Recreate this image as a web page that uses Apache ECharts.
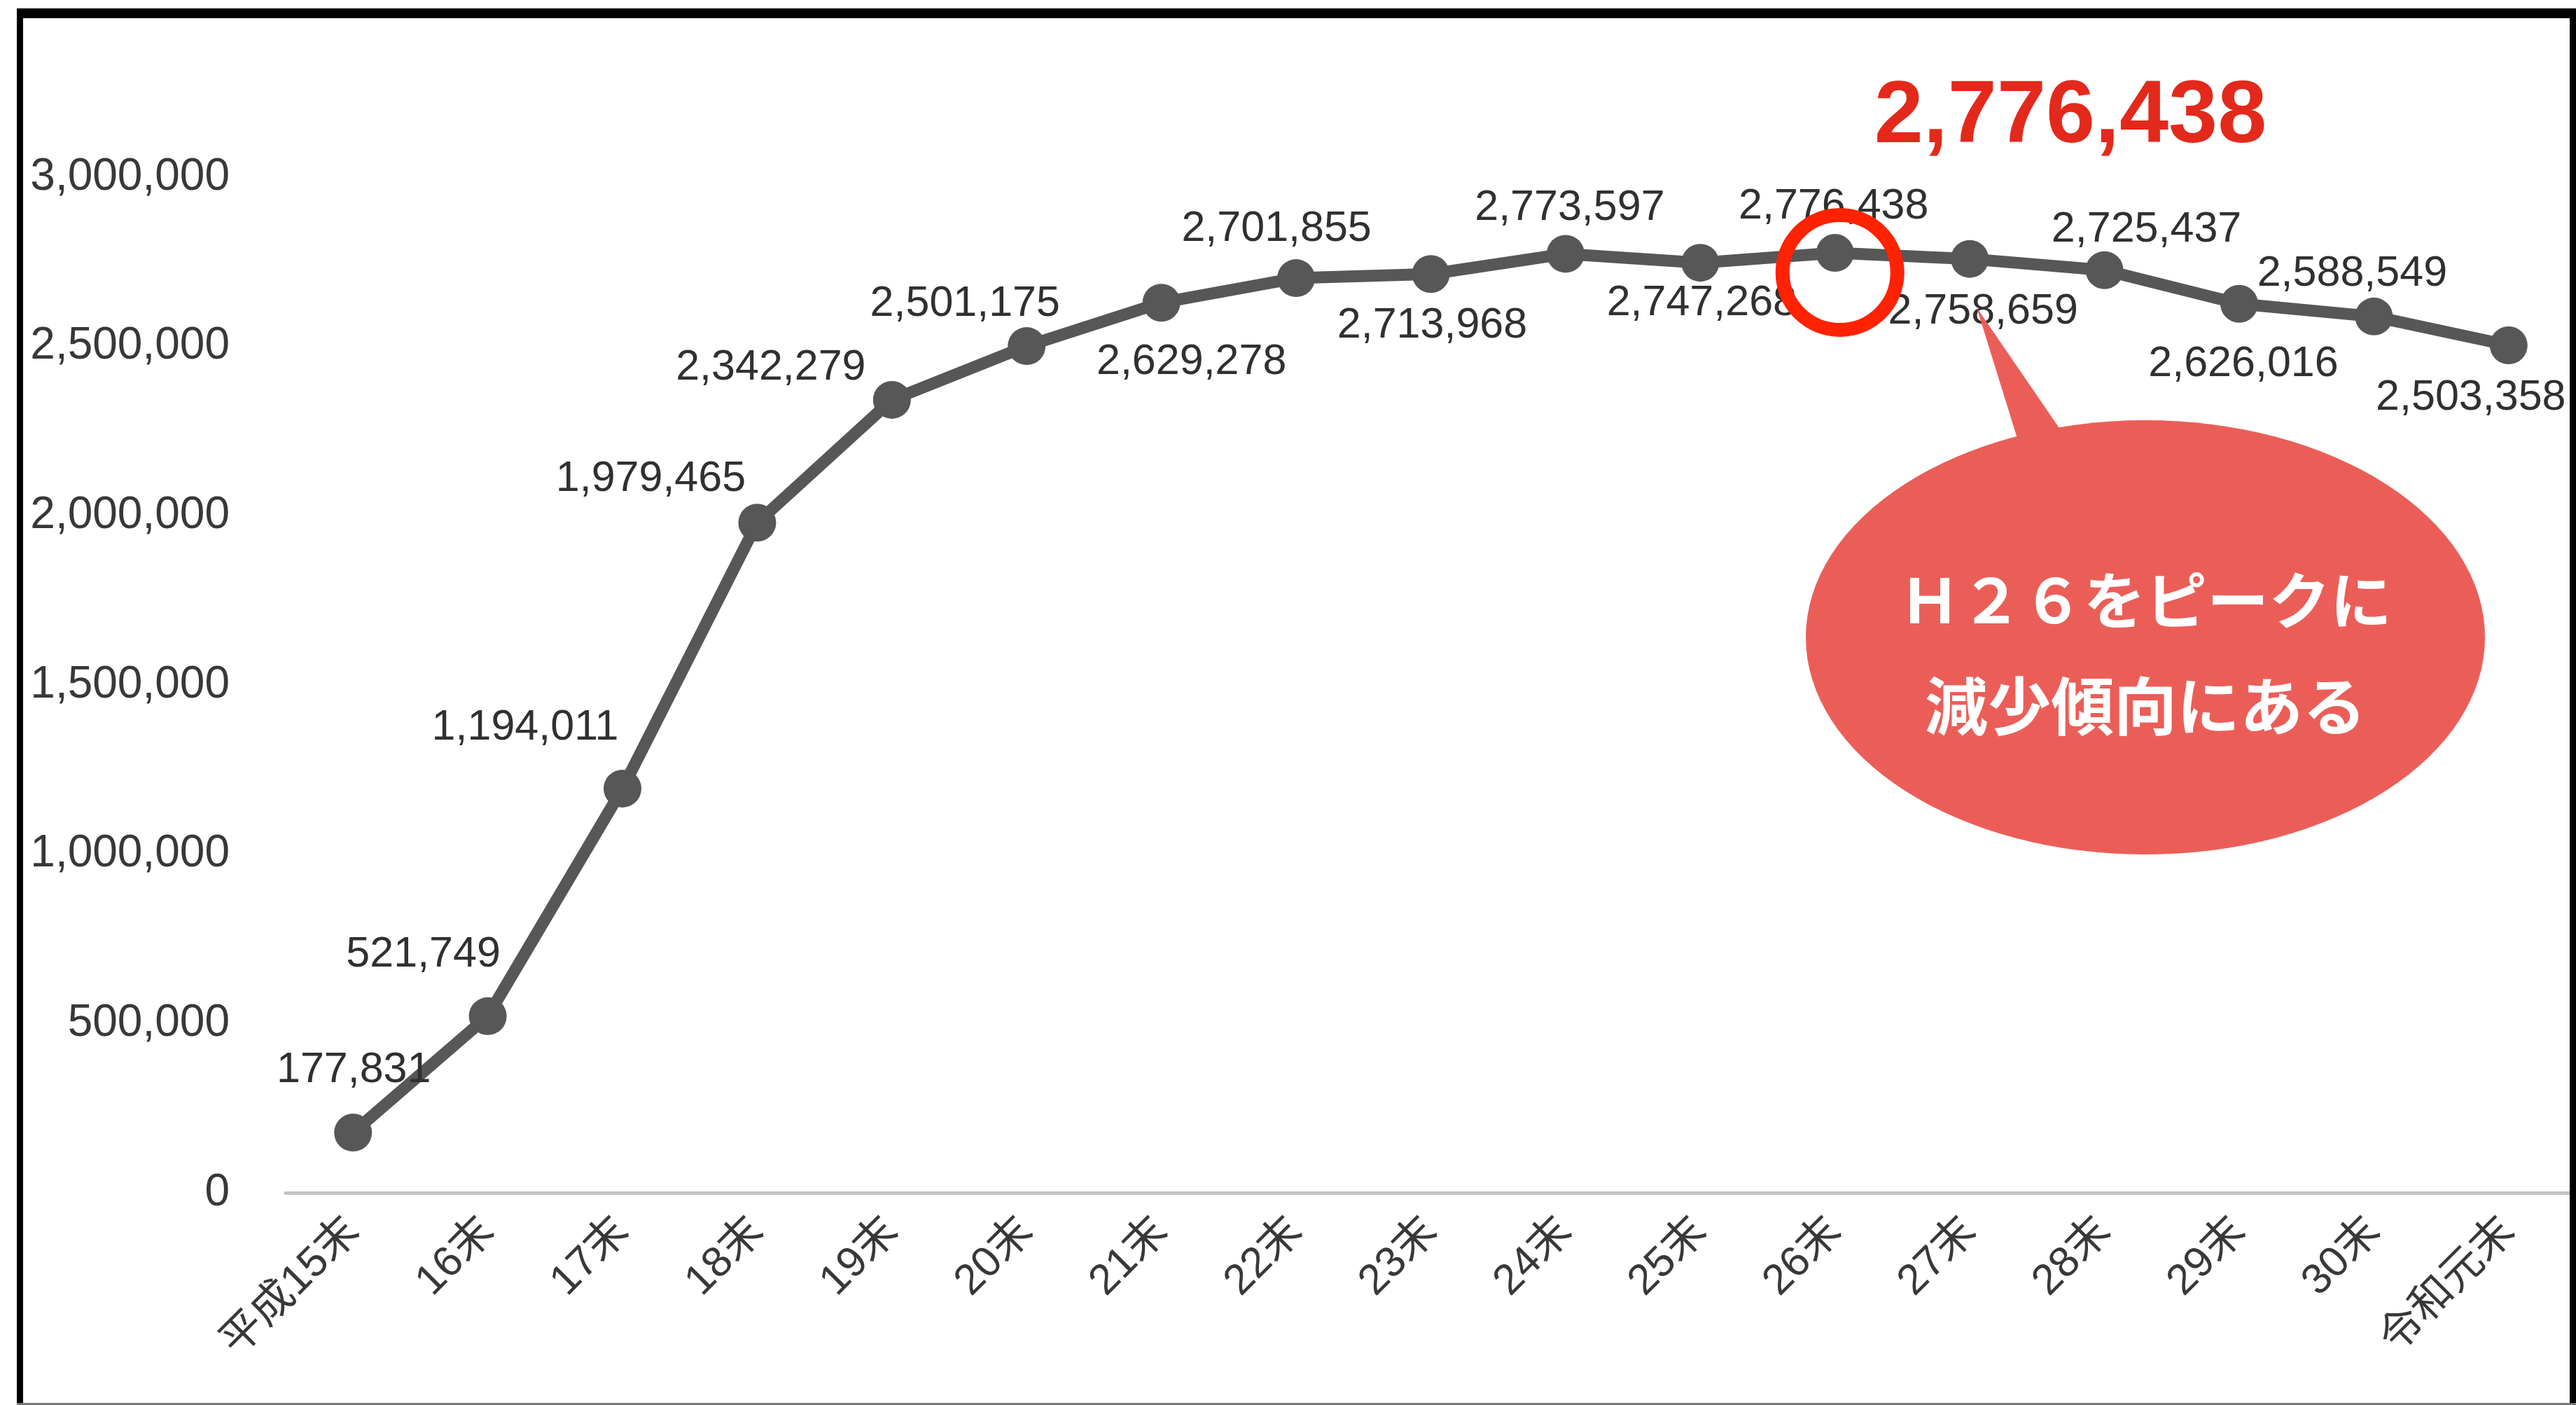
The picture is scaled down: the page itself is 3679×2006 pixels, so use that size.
<!DOCTYPE html>
<html>
<head>
<meta charset="utf-8">
<script src="https://cdn.jsdelivr.net/npm/echarts@6/dist/echarts.min.js"></script>
<style>
html,body{margin:0;padding:0;background:#fff;}
#chart{width:3679px;height:2006px;}
</style>
</head>
<body>
<div id="chart"></div>
<script>
// ---- data ----
const categories = ['平成15末','16末','17末','18末','19末','20末','21末','22末','23末','24末','25末','26末','27末','28末','29末','30末','令和元末'];
const values = [177831, 521749, 1194011, 1979465, 2342279, 2501175, 2629278, 2701855, 2713968, 2773597, 2747268, 2776438, 2758659, 2725437, 2626016, 2588549, 2503358];
const calloutLines = ['Ｈ２６をピークに', '減少傾向にある'];

// ---- layout (label centre offsets from each point, px) ----
const labelOffsets = [[1,-89],[-92,-88],[-139,-87],[-152,-62],[-173,-46],[-88,-60],[43,85],[-28,-70],[2,74],[6,-65],[2,58],[-2,-66],[19,76],[60,-58],[6,86],[-31,-61],[-54,75]];

const fmt = v => Number(v).toLocaleString('en-US');
const numFont = "'Liberation Sans','Noto Sans CJK JP',sans-serif";
const peakIdx = values.indexOf(Math.max.apply(null, values));

const chart = echarts.init(document.getElementById('chart'), null, {renderer:'canvas'});

const seriesData = values.map((v, i) => ({
  value: v,
  label: { offset: labelOffsets[i] }
}));

chart.setOption({
  backgroundColor: '#ffffff',
  animation: false,
  grid: { left: 408, top: 253, width: 3279, bottom: 303, containLabel: false },
  xAxis: {
    type: 'category',
    data: categories,
    boundaryGap: true,
    axisLine: { show: true, lineStyle: { color: '#c4c4c4', width: 5 } },
    axisTick: { show: false },
    axisLabel: { rotate: 45, margin: 46, fontSize: 61, color: '#383838', fontFamily: numFont, interval: 0 },
    splitLine: { show: false }
  },
  yAxis: {
    type: 'value',
    min: 0, max: 3000000, interval: 500000,
    axisLine: { show: false },
    axisTick: { show: false },
    splitLine: { show: false },
    axisLabel: { margin: 80, fontSize: 64, color: '#383838', fontFamily: numFont, formatter: v => fmt(v) }
  },
  series: [{
    type: 'line',
    data: seriesData,
    symbol: 'circle',
    symbolSize: 54,
    lineStyle: { color: '#575757', width: 17 },
    itemStyle: { color: '#575757' },
    label: {
      show: true,
      position: 'inside',
      fontSize: 61,
      color: '#303030',
      fontFamily: numFont,
      formatter: p => fmt(p.value)
    },
    markPoint: {
      silent: true,
      data: [{
        coord: [peakIdx, values[peakIdx]],
        symbol: 'circle',
        symbolSize: 164,
        symbolOffset: [7, 28],
        itemStyle: { color: 'rgba(0,0,0,0)', borderColor: '#ff2200', borderWidth: 20 },
        label: { show: false }
      }]
    }
  }],
  graphic: [
    // peak value in red
    { type: 'text', x: 2957, y: 168, z: 100,
      style: { text: fmt(values[peakIdx]), fill: '#e3291b', fontSize: 126, fontWeight: 'bold', fontFamily: "'Liberation Sans',sans-serif", align: 'center', verticalAlign: 'middle' } },
    // callout tail
    { type: 'polygon', z: 100, shape: { points: [[2823,439],[2901,690],[2995,690]] }, style: { fill: '#eb5e58' } },
    // callout bubble
    { type: 'circle', z: 100, x: 3064, y: 910, scaleY: 310/485, shape: { cx: 0, cy: 0, r: 485 }, style: { fill: '#eb5e58' } },
    { type: 'text', z: 101, x: 3064, y: 857,
      style: { text: calloutLines[0], fill: '#ffffff', fontSize: 88, fontWeight: 'bold', fontFamily: "'Noto Sans CJK JP',sans-serif", align: 'center', verticalAlign: 'middle' } },
    { type: 'text', z: 101, x: 3064, y: 1008,
      style: { text: calloutLines[1], fill: '#ffffff', fontSize: 90, fontWeight: 'bold', fontFamily: "'Noto Sans CJK JP',sans-serif", align: 'center', verticalAlign: 'middle' } },
    // frame
    { type: 'rect', z: 200, shape: { x: 24, y: 12, width: 3655, height: 14 }, style: { fill: '#000' } },
    { type: 'rect', z: 200, shape: { x: 24, y: 12, width: 9, height: 1994 }, style: { fill: '#000' } },
    { type: 'rect', z: 200, shape: { x: 3670, y: 12, width: 9, height: 1994 }, style: { fill: '#000' } },
    { type: 'rect', z: 200, shape: { x: 24, y: 2003, width: 3655, height: 3 }, style: { fill: '#777' } }
  ]
});
</script>
</body>
</html>
